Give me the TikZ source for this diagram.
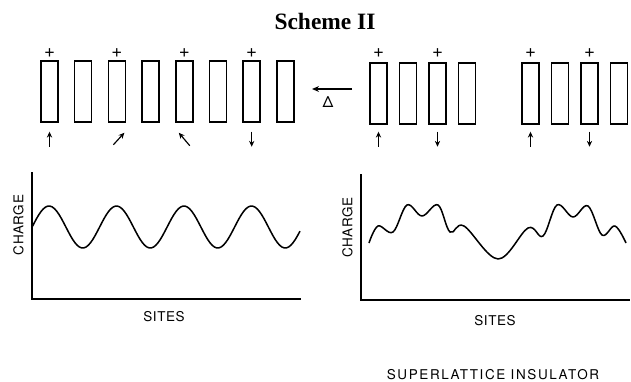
\documentclass[tikz,border=0pt]{standalone}
\usepackage{fontspec}
\newfontfamily\labelfont[LetterSpace=4]{TeX Gyre Heros}
\newfontfamily\widelabelfont[LetterSpace=12]{TeX Gyre Heros}
\newfontfamily\titlefont{Liberation Serif}
\usetikzlibrary{arrows.meta,calc}
\begin{document}
\begin{tikzpicture}[x=0.03cm,y=-0.03cm,
  site/.style={draw,line width=1.3pt,minimum width=14.5pt,minimum height=52pt,inner sep=0pt},
  plus/.style={font=\labelfont\fontsize{16}{16}\selectfont,inner sep=0pt},
  spin/.style={line width=1pt,-{Stealth[length=5pt,width=4.5pt]}},
  lbl/.style={font=\labelfont\fontsize{11.5}{12}\selectfont,inner sep=0pt},
  axis/.style={line width=1.2pt},
  wave/.style={line width=1.3pt,line join=round}]
\useasboundingbox (0,0) rectangle (631,381);

\node[font=\titlefont\bfseries\fontsize{20}{22}\selectfont] (title) at (325,21) {Scheme II};

% uniform chain
\foreach \i in {1,...,8}
  \node[site] (l\i) at ({49.5+33.7*(\i-1)},91.5) {};
\foreach \i in {1,3,5,7}
  \node[plus] (lp\i) at ($(l\i.north)+(0,-7.5)$) {+};
\draw[spin] ($(l1.south)+(0,24)$) -- ($(l1.south)+(0,9)$);
\draw[spin] ($(l3.south)+(-3.5,22)$) -- ($(l3.south)+(7.5,10)$);
\draw[spin] ($(l5.south)+(5.5,23)$) -- ($(l5.south)+(-5.5,10)$);
\draw[spin] ($(l7.south)+(0,9)$) -- ($(l7.south)+(0,24)$);

% heating arrow
\coordinate (heat0) at (352,89);
\coordinate (heat1) at (312,89);
\draw[line width=1.1pt,-{Stealth[length=6pt,width=5pt]}] (heat0) -- (heat1);
\node[lbl,font=\labelfont\fontsize{13}{13}\selectfont] (delta) at (328,102) {Δ};

% superlattice chain
\foreach \g/\x in {a/378.5,b/530.5}{
  \foreach \i in {1,...,4}
    \node[site] (\g\i) at ({\x+29.5*(\i-1)},93.5) {};
  \node[plus] (\g p1) at ($(\g1.north)+(0,-9)$) {+};
  \node[plus] (\g p3) at ($(\g3.north)+(0,-9)$) {+};
  \draw[spin] ($(\g1.south)+(0,22)$) -- ($(\g1.south)+(0,7)$);
  \draw[spin] ($(\g3.south)+(0,7)$) -- ($(\g3.south)+(0,22)$);
}

% charge plots
\draw[axis] (32,172) -- (32,299) -- (301,299);
\draw[wave] plot[domain=32:300,samples=120] (\x,{227-21*cos(5.3333*(\x-49))});
\node[lbl,rotate=90] (lq) at (18.5,225) {CHARGE};
\node[lbl] (ls) at (164,316.5) {SITES};

\draw[axis] (361,174) -- (361,300) -- (630,300);
\draw[wave] plot[smooth,tension=0.6] coordinates {(369,243) (378,226) (393,232) (407,205) (422,216) (438,205) (450,232) (464,226) (498,259) (528,228) (543,236) (557,205) (573,217) (588,206) (602,235) (615,226) (626,243)};
\node[lbl,rotate=90] (rq) at (347.5,227.5) {CHARGE};
\node[lbl] (rs) at (495,321) {SITES};
\node[lbl,font=\widelabelfont\fontsize{11.5}{12}\selectfont] (ins) at (493,374.5) {SUPERLATTICE INSULATOR};
\end{tikzpicture}
\end{document}
